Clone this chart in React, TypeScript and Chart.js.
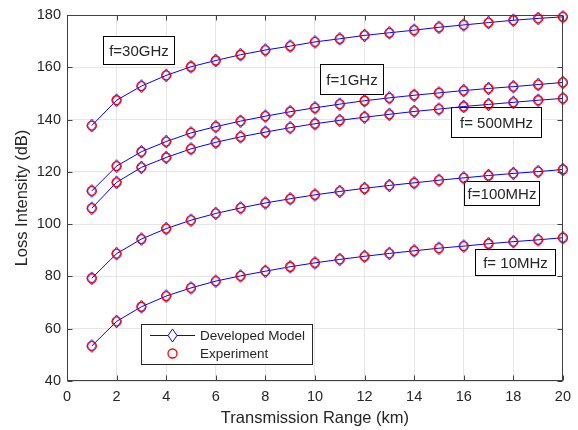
import React, { useEffect, useRef } from "react";
import { Chart, registerables } from "chart.js";

Chart.register(...registerables);

const distanceKm = [1, 2, 3, 4, 5, 6, 7, 8, 9, 10, 11, 12, 13, 14, 15, 16, 17, 18, 19, 20];

const model30GHz = [137.7, 147.4, 152.8, 156.9, 160.2, 162.6, 164.8, 166.6, 168.1, 169.7, 170.9, 172.2, 173.2, 174.2, 175.3, 176.2, 177.1, 178.0, 178.7, 179.3];
const model1GHz = [112.7, 122.2, 127.7, 131.6, 134.9, 137.3, 139.4, 141.3, 143.0, 144.5, 145.9, 147.2, 148.3, 149.3, 150.2, 151.1, 151.9, 152.6, 153.4, 154.2];
const model500MHz = [106.1, 116.0, 121.7, 125.5, 128.8, 131.3, 133.4, 135.2, 136.9, 138.4, 139.7, 140.9, 142.0, 143.1, 144.0, 145.0, 145.8, 146.6, 147.4, 148.1];
const model100MHz = [79.3, 88.7, 94.3, 98.3, 101.5, 104.1, 106.2, 108.1, 109.7, 111.2, 112.5, 113.7, 114.8, 115.8, 116.8, 117.7, 118.6, 119.4, 120.1, 120.9];
const model10MHz = [53.4, 62.8, 68.4, 72.5, 75.6, 78.2, 80.2, 82.0, 83.7, 85.2, 86.5, 87.7, 88.8, 89.8, 90.8, 91.6, 92.5, 93.3, 94.0, 94.8];

const exp30GHz = [137.7, 147.4, 152.8, 156.9, 160.2, 162.6, 164.8, 166.6, 168.1, 169.7, 170.9, 172.2, 173.2, 174.2, 175.3, 176.2, 177.1, 178.0, 178.7, 179.3];
const exp1GHz = [112.7, 122.2, 127.7, 131.6, 134.9, 137.3, 139.4, 141.3, 143.0, 144.5, 145.9, 147.2, 148.3, 149.3, 150.2, 151.1, 151.9, 152.6, 153.4, 154.2];
const exp500MHz = [106.1, 116.0, 121.7, 125.5, 128.8, 131.3, 133.4, 135.2, 136.9, 138.4, 139.7, 140.9, 142.0, 143.1, 144.0, 145.0, 145.8, 146.6, 147.4, 148.1];
const exp100MHz = [79.3, 88.7, 94.3, 98.3, 101.5, 104.1, 106.2, 108.1, 109.7, 111.2, 112.5, 113.7, 114.8, 115.8, 116.8, 117.7, 118.6, 119.4, 120.1, 120.9];
const exp10MHz = [53.4, 62.8, 68.4, 72.5, 75.6, 78.2, 80.2, 82.0, 83.7, 85.2, 86.5, 87.7, 88.8, 89.8, 90.8, 91.6, 92.5, 93.3, 94.0, 94.8];

const modelSeries = [model30GHz, model1GHz, model500MHz, model100MHz, model10MHz];
const expSeries = [exp30GHz, exp1GHz, exp500MHz, exp100MHz, exp10MHz];

const xTicks = [0, 2, 4, 6, 8, 10, 12, 14, 16, 18, 20];
const yTicks = [40, 60, 80, 100, 120, 140, 160, 180];

const labelBoxes = [
  { text: "f=30GHz", x0: 1.46, x1: 4.32, y0: 171.9, y1: 161.4 },
  { text: "f=1GHz", x0: 10.2, x1: 12.73, y0: 161.4, y1: 149.9 },
  { text: "f= 500MHz", x0: 15.5, x1: 19.1, y0: 145.0, y1: 133.5 },
  { text: "f=100MHz", x0: 16.02, x1: 19.03, y0: 116.6, y1: 107.3 },
  { text: "f= 10MHz", x0: 16.45, x1: 19.67, y0: 90.6, y1: 80.4 },
];

const FONT = "'Liberation Sans', Arial, Helvetica, sans-serif";
const TEXT = "#262626";

function makeDiamond(): HTMLCanvasElement {
  const c = document.createElement("canvas");
  c.width = 11;
  c.height = 15;
  const g = c.getContext("2d")!;
  g.strokeStyle = "#0000ff";
  g.lineWidth = 1;
  g.beginPath();
  g.moveTo(5.5, 1);
  g.lineTo(10, 7.5);
  g.lineTo(5.5, 14);
  g.lineTo(1, 7.5);
  g.closePath();
  g.stroke();
  return c;
}

const boxesPlugin = {
  id: "labelBoxes",
  beforeDatasetsDraw(chart: any) {
    const { ctx, scales } = chart;
    const x = scales.x;
    const y = scales.y;
    ctx.save();
    ctx.font = `15px ${FONT}`;
    ctx.textAlign = "center";
    ctx.textBaseline = "middle";
    for (const b of labelBoxes) {
      const l = Math.round(x.getPixelForValue(b.x0)) + 0.5;
      const r = Math.round(x.getPixelForValue(b.x1)) + 0.5;
      const t = Math.round(y.getPixelForValue(b.y0)) + 0.5;
      const btm = Math.round(y.getPixelForValue(b.y1)) + 0.5;
      ctx.fillStyle = "#ffffff";
      ctx.fillRect(l, t, r - l, btm - t);
      ctx.strokeStyle = "#000000";
      ctx.lineWidth = 1;
      ctx.strokeRect(l, t, r - l, btm - t);
      ctx.fillStyle = TEXT;
      ctx.fillText(b.text, (l + r) / 2, (t + btm) / 2 + 1);
    }
    ctx.restore();
  },
};

const framePlugin = {
  id: "frame",
  afterDatasetsDraw(chart: any) {
    const { ctx, chartArea, scales } = chart;
    const { left, right, top, bottom } = chartArea;
    const x = scales.x;
    const y = scales.y;
    ctx.save();
    ctx.strokeStyle = "#404040";
    ctx.lineWidth = 1;
    const L = Math.round(left) + 0.5;
    const R = Math.round(right) - 0.5;
    const T = Math.round(top) + 0.5;
    const B = Math.round(bottom) - 0.5;
    ctx.strokeRect(L, T, R - L, B - T);
    const len = 5;
    ctx.beginPath();
    for (const v of xTicks) {
      const px = Math.round(x.getPixelForValue(v)) + 0.5;
      ctx.moveTo(px, B);
      ctx.lineTo(px, B - len);
      ctx.moveTo(px, T);
      ctx.lineTo(px, T + len);
    }
    for (const v of yTicks) {
      const py = Math.round(y.getPixelForValue(v)) + 0.5;
      ctx.moveTo(L, py);
      ctx.lineTo(L + len, py);
      ctx.moveTo(R, py);
      ctx.lineTo(R - len, py);
    }
    ctx.stroke();

    // legend
    const lx0 = 141.5, lx1 = 312.5, ly0 = 324.5, ly1 = 364.5;
    ctx.fillStyle = "#ffffff";
    ctx.fillRect(lx0, ly0, lx1 - lx0, ly1 - ly0);
    ctx.strokeStyle = "#262626";
    ctx.strokeRect(lx0, ly0, lx1 - lx0, ly1 - ly0);
    const r1 = 335.5, r2 = 353.5, mx = 172.5;
    ctx.strokeStyle = "#0000ff";
    ctx.beginPath();
    ctx.moveTo(150, r1);
    ctx.lineTo(195, r1);
    ctx.stroke();
    ctx.fillStyle = "#ffffff";
    ctx.beginPath();
    ctx.moveTo(mx, r1 - 6.5);
    ctx.lineTo(mx + 4.5, r1);
    ctx.lineTo(mx, r1 + 6.5);
    ctx.lineTo(mx - 4.5, r1);
    ctx.closePath();
    ctx.fill();
    ctx.stroke();
    ctx.strokeStyle = "#ff0000";
    ctx.lineWidth = 1.3;
    ctx.beginPath();
    ctx.arc(mx, r2, 4.5, 0, Math.PI * 2);
    ctx.stroke();
    ctx.fillStyle = TEXT;
    ctx.font = `13.5px ${FONT}`;
    ctx.textAlign = "left";
    ctx.textBaseline = "middle";
    ctx.fillText("Developed Model", 200, r1 + 1);
    ctx.fillText("Experiment", 200, r2 + 1);
    ctx.restore();
  },
};

export default function App() {
  const canvasRef = useRef<HTMLCanvasElement | null>(null);

  useEffect(() => {
    document.body.style.margin = "0";
    const canvas = canvasRef.current;
    if (!canvas) return;
    const diamond = makeDiamond();

    const datasets: any[] = [];
    expSeries.forEach((arr) => {
      datasets.push({
        label: "Experiment",
        data: distanceKm.map((d, i) => ({ x: d, y: arr[i] })),
        showLine: false,
        pointStyle: "circle",
        pointRadius: 4.5,
        pointBorderWidth: 1.3,
        borderColor: "#ff0000",
        backgroundColor: "rgba(0,0,0,0)",
        pointBackgroundColor: "rgba(0,0,0,0)",
        clip: false,
        order: 0,
      });
    });
    modelSeries.forEach((arr) => {
      datasets.push({
        label: "Developed Model",
        data: distanceKm.map((d, i) => ({ x: d, y: arr[i] })),
        showLine: true,
        borderColor: "#0000ff",
        borderWidth: 1,
        pointStyle: diamond,
        pointRadius: 6,
        pointBorderColor: "#0000ff",
        pointBackgroundColor: "rgba(0,0,0,0)",
        backgroundColor: "rgba(0,0,0,0)",
        tension: 0,
        clip: false,
        order: 1,
      });
    });

    const chart = new Chart(canvas, {
      type: "scatter",
      data: { datasets },
      options: {
        responsive: false,
        animation: false,
        layout: { padding: { left: 0, top: 15, right: 14, bottom: 0 } },
        plugins: {
          legend: { display: false },
          tooltip: { enabled: false },
        },
        scales: {
          x: {
            type: "linear",
            min: 0,
            max: 20,
            afterFit: (s: any) => {
              s.height = 49;
            },
            afterBuildTicks: (s: any) => {
              s.ticks = xTicks.map((v) => ({ value: v }));
            },
            grid: { color: "#e6e6e6", drawTicks: false, lineWidth: 1 },
            border: { display: false },
            ticks: {
              color: TEXT,
              font: { family: FONT, size: 14.5 },
              padding: 7,
              maxRotation: 0,
              autoSkip: false,
            },
            title: {
              display: true,
              text: "Transmission Range (km)",
              color: TEXT,
              font: { family: FONT, size: 16.5 },
              padding: { top: 0, bottom: 2 },
            },
          },
          y: {
            type: "linear",
            min: 40,
            max: 180,
            afterFit: (s: any) => {
              s.width = 67;
            },
            afterBuildTicks: (s: any) => {
              s.ticks = yTicks.map((v) => ({ value: v }));
            },
            grid: { color: "#e6e6e6", drawTicks: false, lineWidth: 1 },
            border: { display: false },
            ticks: {
              color: TEXT,
              font: { family: FONT, size: 14.5 },
              padding: 6,
              autoSkip: false,
            },
            title: {
              display: true,
              text: "Loss Intensity (dB)",
              color: TEXT,
              font: { family: FONT, size: 16.5 },
              padding: { top: 12.5, bottom: 0 },
            },
          },
        },
      },
      plugins: [boxesPlugin, framePlugin],
    } as any);

    return () => chart.destroy();
  }, []);

  return (
    <div style={{ width: 578, height: 430 }}>
      <canvas ref={canvasRef} width={578} height={430} style={{ display: "block" }} />
    </div>
  );
}
